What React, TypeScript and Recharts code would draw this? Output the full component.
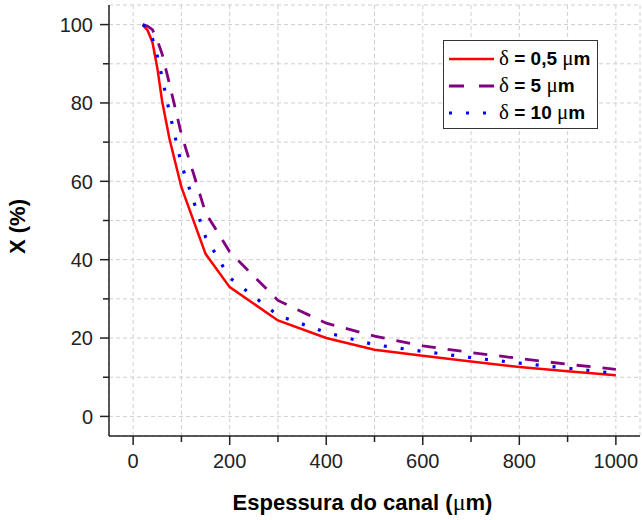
import React from 'react';
import { LineChart, Line, XAxis, YAxis, CartesianGrid, Label } from 'recharts';

const thickness = [20, 30, 40, 50, 60, 75, 100, 150, 200, 300, 400, 500, 600, 700, 800, 900, 1000];
const delta05 = [100, 98.5, 95.5, 89, 80.5, 71, 58.5, 41.5, 33, 24.5, 20, 17, 15.5, 14, 12.6, 11.5, 10.5];
const delta5 = [100, 99.6, 98.7, 96, 92.5, 85, 72, 52, 42, 29.6, 23.8, 20.5, 18, 16.3, 14.8, 13.3, 12];
const delta10 = [100, 99, 96.5, 92, 86.5, 77.8, 64.3, 45.8, 35.4, 25.8, 21.4, 18.3, 16.6, 15, 13.6, 12.3, 11];

const xTicks = [0, 100, 200, 300, 400, 500, 600, 700, 800, 900, 1000];
const yTicks = [0, 10, 20, 30, 40, 50, 60, 70, 80, 90, 100];

const series = [
  { key: 'd05', name: '0,5', color: '#ff0000', dash: undefined, legendDash: undefined, width: 2.5 },
  { key: 'd5', name: '5', color: '#800080', dash: '14 12', legendDash: '15 15', width: 2.8 },
  { key: 'd10', name: '10', color: '#0000ff', dash: '3 14', legendDash: '3 14', width: 3.2 },
];

const data = thickness.map((t, i) => ({
  t,
  d05: delta05[i],
  d5: delta5[i],
  d10: delta10[i],
}));

const FONT = '"Liberation Sans", Arial, sans-serif';
const SYMBOL = '"Liberation Serif", "Times New Roman", serif';
const AXIS = '#222';

const XTick = (props: any) => {
  const { x, y, payload } = props;
  const major = payload.value % 200 === 0;
  return (
    <g>
      <line x1={x} x2={x} y1={y} y2={y + (major ? 9 : 6)} stroke={AXIS} strokeWidth={1.5} />
      {major && (
        <text x={x} y={y + 32} textAnchor="middle" fontSize={20} fontFamily={FONT} fill="#222">
          {payload.value}
        </text>
      )}
    </g>
  );
};

const YTick = (props: any) => {
  const { x, y, payload } = props;
  const major = payload.value % 20 === 0;
  return (
    <g>
      <line x1={x - (major ? 9 : 6)} x2={x} y1={y} y2={y} stroke={AXIS} strokeWidth={1.5} />
      {major && (
        <text x={x - 16} y={y} dy="0.36em" textAnchor="end" fontSize={20} fontFamily={FONT} fill="#222">
          {payload.value}
        </text>
      )}
    </g>
  );
};

const LegendBox = () => (
  <div
    style={{
      position: 'absolute',
      left: 443,
      top: 40,
      width: 150,
      border: '1.5px solid #333',
      background: '#fff',
      padding: '4px 0 2px 3px',
      fontFamily: FONT,
      fontSize: 19,
      lineHeight: '27px',
      color: '#000',
    }}
  >
    {series.map((s) => (
      <div key={s.key} style={{ display: 'flex', alignItems: 'center', whiteSpace: 'nowrap' }}>
        <svg width={48} height={10} style={{ marginRight: 4 }}>
          <line x1={2} x2={47} y1={5} y2={5} stroke={s.color} strokeWidth={s.width} strokeDasharray={s.legendDash} />
        </svg>
        <span style={{ fontFamily: SYMBOL, fontSize: 21 }}>δ</span>
        <span style={{ fontWeight: 700 }}>&nbsp;=&nbsp;{s.name}&nbsp;</span>
        <span style={{ fontFamily: SYMBOL, fontSize: 21 }}>μ</span>
        <span style={{ fontWeight: 700 }}>m</span>
      </div>
    ))}
  </div>
);

export default function App() {
  return (
    <div style={{ position: 'absolute', left: 0, top: 0, width: 642, height: 520, background: '#fff' }}>
      <LineChart width={642} height={520} data={data} margin={{ top: 5, right: 2, bottom: 0, left: 0 }}>
        <CartesianGrid stroke="#cfcfcf" strokeDasharray="4 3" />
        <XAxis
          dataKey="t"
          type="number"
          domain={[-50, 1050]}
          ticks={xTicks}
          interval={0}
          tick={<XTick />}
          tickLine={false}
          tickSize={0}
          tickMargin={0}
          height={84}
          axisLine={{ stroke: AXIS, strokeWidth: 1.5 }}
        >
          <Label
            content={(p: any) => (
              <text
                x={p.viewBox.x + p.viewBox.width / 2 - 12}
                y={p.viewBox.y + 74}
                textAnchor="middle"
                fontSize={22}
                fontWeight={700}
                fontFamily={FONT}
                fill="#000"
              >
                Espessura do canal (
                <tspan fontFamily={SYMBOL} fontWeight={400} fontSize={24}>μ</tspan>
                m)
              </text>
            )}
          />
        </XAxis>
        <XAxis
          xAxisId="top"
          orientation="top"
          dataKey="t"
          type="number"
          domain={[-50, 1050]}
          height={0}
          tick={false}
          tickLine={false}
          axisLine={{ stroke: AXIS, strokeWidth: 1.5 }}
        />
        <YAxis
          type="number"
          domain={[-5, 105]}
          ticks={yTicks}
          interval={0}
          tick={<YTick />}
          tickLine={false}
          tickSize={0}
          tickMargin={0}
          width={109}
          axisLine={{ stroke: AXIS, strokeWidth: 1.5 }}
        >
          <Label
            content={(p: any) => {
              const cx = p.viewBox.x + 25;
              const cy = p.viewBox.y + p.viewBox.height / 2 + 6;
              return (
                <text
                  x={cx}
                  y={cy}
                  transform={`rotate(-90 ${cx} ${cy})`}
                  textAnchor="middle"
                  fontSize={22}
                  fontWeight={700}
                  fontFamily={FONT}
                  fill="#000"
                >
                  X (%)
                </text>
              );
            }}
          />
        </YAxis>
        <YAxis
          yAxisId="right"
          orientation="right"
          type="number"
          domain={[-5, 105]}
          width={0}
          tick={false}
          tickLine={false}
          axisLine={{ stroke: AXIS, strokeWidth: 1.5 }}
        />
        {series.map((s) => (
          <Line
            key={s.key}
            type="linear"
            dataKey={s.key}
            name={s.name}
            stroke={s.color}
            strokeWidth={s.width}
            strokeDasharray={s.dash}
            dot={false}
            isAnimationActive={false}
          />
        ))}
      </LineChart>
      <LegendBox />
    </div>
  );
}
